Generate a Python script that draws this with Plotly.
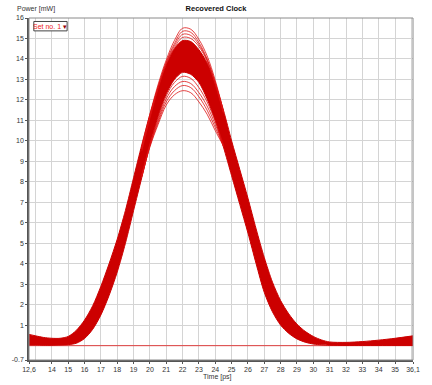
import plotly.graph_objects as go

# ---- data ----
time_ps = [12.6, 13, 13.5, 14, 14.5, 15, 15.5, 16, 16.5, 17, 17.5, 18, 18.5, 19, 19.5,
           20, 20.5, 21, 21.5, 22, 22.5, 23, 23.5, 24, 24.5, 25, 25.5, 26, 26.5, 27,
           27.5, 28, 28.5, 29, 29.5, 30, 30.5, 31, 32, 33, 34, 35, 36.1]

# upper edge of the dense bundle of traces (mW)
band_upper = [0.55, 0.48, 0.40, 0.36, 0.36, 0.45, 0.75, 1.25, 1.95, 2.9, 4.0, 5.2, 6.6, 8.2, 9.8,
              11.3, 12.6, 13.7, 14.5, 14.9, 14.85, 14.45, 13.8, 12.8, 11.5, 10.0, 8.6, 7.2, 5.7, 4.3,
              3.1, 2.2, 1.55, 1.05, 0.70, 0.45, 0.28, 0.18, 0.16, 0.20, 0.27, 0.36, 0.48]

# lower edge of the dense bundle of traces (mW)
band_lower = [0.03, 0.03, 0.02, 0.02, 0.03, 0.05, 0.12, 0.35, 0.8, 1.5, 2.45, 3.6, 5.0, 6.6, 8.2,
              9.8, 11.2, 12.3, 13.0, 13.35, 13.25, 12.85, 12.05, 11.0, 9.7, 8.3, 6.9, 5.5, 4.0, 2.6,
              1.65, 1.0, 0.6, 0.33, 0.17, 0.08, 0.04, 0.02, 0.01, 0.01, 0.01, 0.01, 0.01]

# individual traces that stand out of the bundle near the peak
time_peak = [19.5, 20, 20.5, 21, 21.5, 22, 22.5, 23, 23.5, 24, 24.5]
high_traces = [
    [9.7, 11.3, 12.75, 13.95, 14.9, 15.5, 15.45, 14.95, 14.15, 12.95, 11.45],
    [9.6, 11.2, 12.65, 13.85, 14.75, 15.35, 15.3, 14.8, 14.0, 12.85, 11.4],
    [9.6, 11.2, 12.6, 13.8, 14.65, 15.2, 15.15, 14.7, 13.95, 12.8, 11.4],
    [9.5, 11.1, 12.55, 13.75, 14.55, 15.05, 15.0, 14.6, 13.9, 12.75, 11.35],
]
low_traces = [
    [8.3, 9.85, 11.1, 12.2, 12.85, 13.15, 13.05, 12.6, 11.9, 10.95, 9.8],
    [8.3, 9.8, 11.0, 12.05, 12.65, 12.9, 12.8, 12.35, 11.7, 10.8, 9.75],
    [8.25, 9.75, 10.9, 11.9, 12.45, 12.7, 12.6, 12.15, 11.5, 10.65, 9.75],
    [8.25, 9.7, 10.8, 11.75, 12.25, 12.45, 12.35, 11.9, 11.3, 10.5, 9.75],
]

ref_time = [12.6, 36.1]
ref_power = [0, 0]

x_tickvals = [12.6] + list(range(14, 36)) + [36.1]
x_ticktext = ["12,6"] + [str(v) for v in range(14, 36)] + ["36,1"]
y_tickvals = [-0.7] + list(range(1, 17))
y_ticktext = ["-0.7"] + [str(v) for v in range(1, 17)]

RED = "#cc0000"
FONT = "Liberation Sans"

fig = go.Figure()

fig.add_trace(go.Scatter(x=ref_time, y=ref_power, mode="lines",
                         line=dict(color="#e04040", width=1), hoverinfo="skip"))

fig.add_trace(go.Scatter(x=time_ps, y=band_lower, mode="lines",
                         line=dict(color=RED, width=1, shape="spline", smoothing=0.8),
                         hoverinfo="skip"))
fig.add_trace(go.Scatter(x=time_ps, y=band_upper, mode="lines", fill="tonexty",
                         fillcolor=RED,
                         line=dict(color=RED, width=1, shape="spline", smoothing=0.8),
                         hoverinfo="skip"))

for tr in high_traces + low_traces:
    fig.add_trace(go.Scatter(x=time_peak, y=tr, mode="lines",
                             line=dict(color="#dd1111", width=0.8, shape="spline", smoothing=1.0),
                             hoverinfo="skip"))

axis_common = dict(
    showgrid=True, gridcolor="#d4d4d4", gridwidth=1,
    zeroline=False, showline=True, linecolor="#555555", linewidth=1.5,
    ticks="outside", ticklen=2, tickcolor="#555555", tickwidth=1,
    tickfont=dict(family=FONT, size=7, color="#333333"),
    tickmode="array",
)

fig.update_xaxes(**axis_common, range=[12.6, 36.1], tickvals=x_tickvals, ticktext=x_ticktext,
                 minor=dict(tickmode="linear", tick0=13, dtick=1, showgrid=True,
                            gridcolor="#d4d4d4", ticks=""))
fig.update_yaxes(**axis_common, range=[-0.7, 16], tickvals=y_tickvals, ticktext=y_ticktext,
                 minor=dict(tickmode="linear", tick0=0, dtick=1, showgrid=True,
                            gridcolor="#d4d4d4", ticks=""))

fig.update_layout(
    width=432, height=385,
    margin=dict(l=20, r=14, t=17.5, b=22.5),
    paper_bgcolor="white", plot_bgcolor="white",
    showlegend=False,
    title=dict(text="<b>Recovered Clock</b>", x=0.5, xref="container", xanchor="center",
               y=1 - 8 / 385, yref="container", yanchor="middle",
               font=dict(family=FONT, size=7.5, color="#111111")),
    shapes=[
        dict(type="rect", xref="paper", yref="paper", x0=0, y0=0, x1=1, y1=1,
             line=dict(color="#8a8a8a", width=1), layer="above"),
        dict(type="rect", xref="paper", yref="paper",
             x0=(25 - 20) / 398, x1=(59.5 - 20) / 398,
             y0=(362.5 - 30.5) / 345, y1=(362.5 - 21) / 345,
             line=dict(color="#444444", width=1), fillcolor="white", layer="above"),
    ],
    annotations=[
        dict(text="Power [mW]", xref="paper", yref="paper", x=(5 - 20) / 398,
             y=(362.5 - 8) / 345, xanchor="left", yanchor="middle", showarrow=False,
             font=dict(family=FONT, size=7, color="#333333")),
        dict(text="Time [ps]", xref="paper", yref="paper", x=(215 - 20) / 398,
             y=(362.5 - 380) / 345, xanchor="center", yanchor="middle", showarrow=False,
             font=dict(family=FONT, size=7, color="#333333")),
        dict(text="Set no. 1 <span style='color:#990000'>▾</span>", xref="paper", yref="paper",
             x=(42.2 - 20) / 398, y=(362.5 - 25.8) / 345, xanchor="center", yanchor="middle",
             showarrow=False, font=dict(family=FONT, size=7, color="#ee2222")),
    ],
)

fig.write_html("out.html", config={"displayModeBar": False},
               post_script="document.body.style.margin='0';document.body.style.overflow='hidden';")
